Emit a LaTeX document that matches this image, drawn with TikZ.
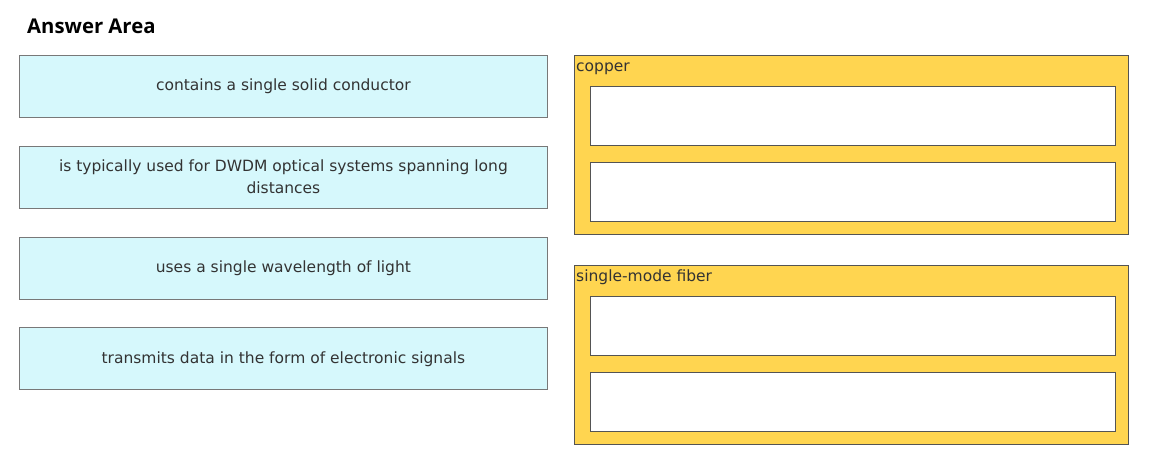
\documentclass[tikz,border=0pt]{standalone}
\usepackage{fontspec}
\setmainfont{DejaVu Sans}
\newfontfamily\headfont{Open Sans}
\usetikzlibrary{positioning}
\definecolor{cardfill}{RGB}{214,248,252}
\definecolor{zonefill}{RGB}{255,213,80}
\definecolor{edgegray}{RGB}{120,120,120}

\begin{document}
\begin{tikzpicture}[x=1pt, y=-1pt,
    card/.style={rectangle, draw=edgegray, thick, fill=cardfill, minimum height=62pt, minimum width=528pt, align=center, font=\fontsize{15.5}{22}\selectfont, text=black!80, inner sep=0pt},
    zone/.style={rectangle, draw=edgegray!70!black, thick, fill=zonefill, minimum height=179pt, minimum width=554pt, inner sep=0pt},
    slot/.style={rectangle, draw=edgegray!70!black, thick, fill=white, minimum height=59pt, minimum width=525pt, inner sep=0pt},
    tag/.style={font=\fontsize{15.5}{18}\selectfont, text=black!80, inner sep=0pt, anchor=base west}
]
    \useasboundingbox[fill=white] (0,0) rectangle (1152,462);

    \node[anchor=base west, font=\headfont\bfseries\fontsize{20.3}{24}\selectfont, inner sep=0pt] (head) at (27,34) {Answer Area};

    \node[card, anchor=north west] (solid) at (19,55) 	{contains a single solid conductor};
    \node[card, below=28pt of solid] (dwdm) 		{is typically used for DWDM optical systems spanning long\\distances};
    \node[card, below=28pt of dwdm] (wave) 		{uses a single wavelength of light};
    \node[card, below=28pt of wave] (signal) 		{transmits data in the form of electronic signals};

    \node[zone, anchor=north west] (copper) at (574,55) {};
    \node[tag] (copperlbl) at ([shift={(2,17)}]copper.north west) {copper};
    \node[slot, anchor=north west] (copperA) at (590,86) {};
    \node[slot, below=16pt of copperA] (copperB) {};

    \node[zone, below=30pt of copper] (fiber) {};
    \node[tag] (fiberlbl) at ([shift={(2,17)}]fiber.north west) {single-mode fiber};
    \node[slot, anchor=north west] (fiberA) at (590,296) {};
    \node[slot, below=16pt of fiberA] (fiberB) {};
\end{tikzpicture}
\end{document}
